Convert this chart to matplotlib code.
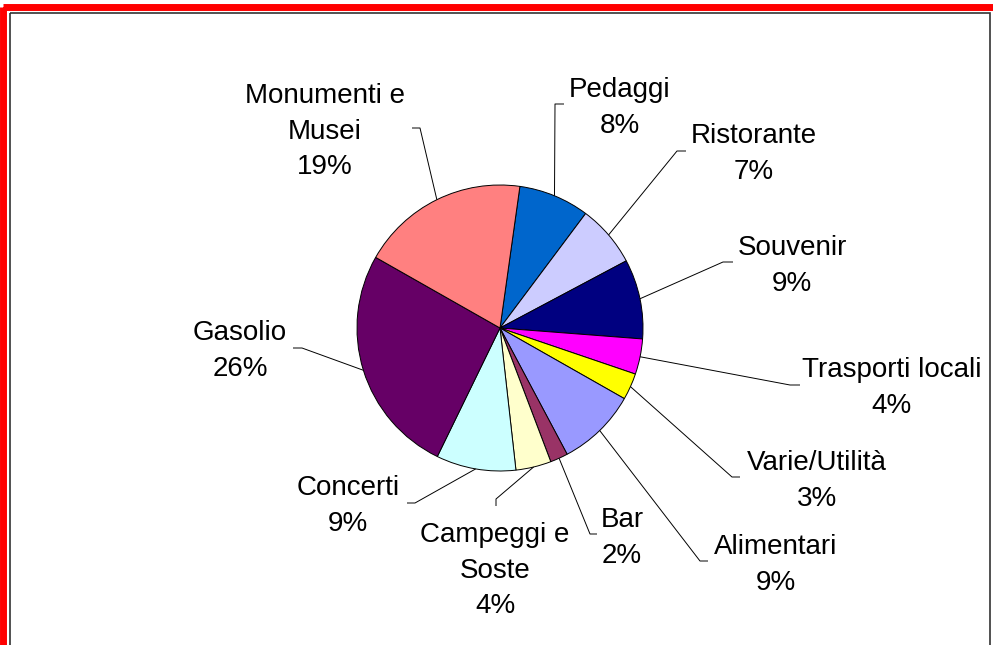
import numpy as np
import matplotlib.pyplot as plt
from matplotlib.patches import Rectangle

plt.rcParams['font.family'] = ['Liberation Sans', 'DejaVu Sans']

# spending breakdown, clockwise from the top
categories = ["Pedaggi", "Ristorante", "Souvenir", "Trasporti locali", "Varie/Utilità",
              "Alimentari", "Bar", "Campeggi e\nSoste", "Concerti", "Gasolio",
              "Monumenti e\nMusei"]
shares = [8, 7, 9, 4, 3, 9, 2, 4, 9, 26, 19]
colors = ["#0066CC", "#CCCCFF", "#000080", "#FF00FF", "#FFFF00",
          "#9999FF", "#993366", "#FFFFCC", "#CCFFFF", "#660066", "#FF8080"]

# label layout in pixels: text centre x, first baseline y, leader elbow and tail
label_x = [620, 754, 792, 892, 817, 776, 622, 495, 348, 240, 325]
label_y = [97, 143, 255, 377, 470, 554, 527, 542, 495, 340, 103]
elbow = [(555, 104), (677, 151), (723, 262), (790, 385), (732, 477), (700, 561),
         (590, 534), (496, 499), (415, 503), (302, 348), (420, 128)]
tail = [(564, 104), (686, 151), (733, 262), (800, 385), (740, 477), (708, 561),
        (597, 534), (496, 506), (407, 503), (293, 348), (412, 128)]

W, H = 993, 645
cx, cy, r = 500, 328, 143
line_step = 35.6

fig = plt.figure(figsize=(W / 100, H / 100), dpi=100)
ax = fig.add_axes([0, 0, 1, 1])

# y axis points down, so increasing angle runs clockwise on screen
wedges, _ = ax.pie(shares, colors=colors, center=(cx, cy), radius=r,
                   startangle=-82, counterclock=True,
                   wedgeprops=dict(edgecolor='black', linewidth=0.7))

total = sum(shares)
for w, name, v, tx, ty, (ex, ey), (tx2, ty2) in zip(wedges, categories, shares,
                                                    label_x, label_y, elbow, tail):
    mid = np.deg2rad((w.theta1 + w.theta2) / 2)
    px, py = cx + r * np.cos(mid), cy + r * np.sin(mid)
    ax.plot([px, ex, tx2], [py, ey, ty2], color='black', lw=0.7,
            solid_capstyle='butt')
    lines = name.split('\n') + [f"{round(100 * v / total)}%"]
    for i, txt in enumerate(lines):
        ax.text(tx, ty + i * line_step, txt, ha='center', va='baseline',
                fontsize=20, color='black')

# outer red frame and inner dark border
ax.add_patch(Rectangle((3.4, 6.7), 991.4, 700, fill=False, edgecolor='#FF0000',
                       linewidth=5.0))
ax.add_patch(Rectangle((10.2, 12.9), 979.9, 700, fill=False, edgecolor='#333333',
                       linewidth=1.2))

ax.set_xlim(0, W)
ax.set_ylim(H, 0)
ax.set_aspect('equal')
ax.axis('off')

fig.savefig("out.png", dpi=100)
